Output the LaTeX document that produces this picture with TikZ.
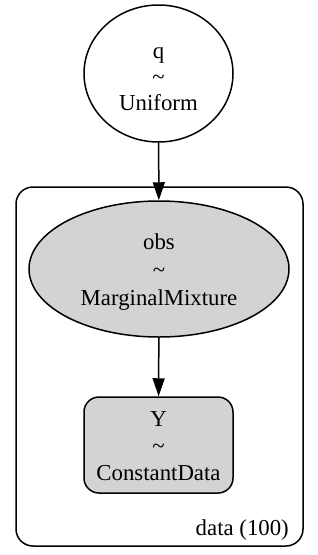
\documentclass[tikz,border=0pt]{standalone}
\usepackage{fontspec}
\setmainfont{Liberation Serif}
\usetikzlibrary{shapes.geometric,arrows.meta}
\definecolor{gvgray}{HTML}{D3D3D3}
\tikzset{
  lbl/.style={font=\fontsize{22.8pt}{27pt}\selectfont, inner sep=0pt, anchor=base},
  ell/.style={draw, ellipse, line width=1.5pt, inner sep=0pt},
  rbox/.style={draw, rectangle, line width=1.5pt, inner sep=0pt},
  arr/.style={line width=1.5pt, -{Triangle[length=18pt,width=12pt]}}
}
\begin{document}
\begin{tikzpicture}[x=1pt,y=-1pt]
\useasboundingbox (0,0) rectangle (318,555);
% plate
\node[rbox, rounded corners=17pt, minimum width=287pt, minimum height=359pt] (plate) at (159.5,366.5) {};
\node[lbl, anchor=base east] (platelbl) at (289,535) {data (100)};
% q
\node[ell, minimum width=149pt, minimum height=137pt] (q) at (158.5,73.5) {};
\node[lbl] (q1) at (158.5,58) {q};
\node[lbl] (q2) at (158.5,84) {\textasciitilde};
\node[lbl] (q3) at (158.5,110) {Uniform};
% obs
\node[ell, fill=gvgray, minimum width=260pt, minimum height=136pt] (obs) at (159,269) {};
\node[lbl] (o1) at (159,249) {obs};
\node[lbl] (o2) at (159,277) {\textasciitilde};
\node[lbl] (o3) at (159,305) {MarginalMixture};
% Y
\node[rbox, fill=gvgray, rounded corners=15pt, minimum width=149pt, minimum height=96pt] (Y) at (158.5,445) {};
\node[lbl] (y1) at (158.5,426) {Y};
\node[lbl] (y2) at (158.5,453) {\textasciitilde};
\node[lbl] (y3) at (158.5,480) {ConstantData};
% edges
\draw[arr] (q) -- (obs);
\draw[arr] (obs) -- (Y);
\end{tikzpicture}
\end{document}
